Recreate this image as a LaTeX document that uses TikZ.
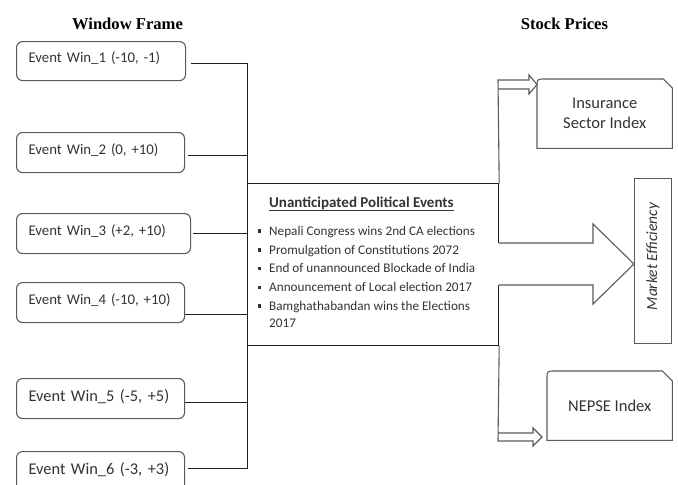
\documentclass[tikz,border=0pt]{standalone}
\usepackage{fontspec}
\setmainfont{Carlito}
\newfontfamily\titlefont{Liberation Serif}
\definecolor{boxgray}{HTML}{5A5A5A}
\definecolor{linec}{HTML}{1E1E1E}
\definecolor{txt}{HTML}{333333}
\begin{document}
\begin{tikzpicture}[x=1pt,y=-1pt,
  evbox/.style={draw=boxgray, line width=1.1pt, rounded corners=6pt, anchor=north west,
    inner xsep=12pt, inner ysep=0pt, align=left, text=txt},
  evsmall/.style={evbox, font=\fontsize{14.8pt}{17pt}\selectfont, text height=10pt, text depth=7pt},
  evbig/.style={evbox, font=\fontsize{16.4pt}{19pt}\selectfont, text height=11pt, text depth=5pt},
  conn/.style={draw=linec, line width=0.9pt},
  rline/.style={draw=boxgray, line width=1.1pt},
  ttl/.style={font=\titlefont\bfseries\fontsize{16.6pt}{19pt}\selectfont, anchor=base, inner sep=0pt},
  lst/.style={font=\fontsize{13.2pt}{17.5pt}\selectfont, anchor=base west, inner sep=0pt, text=txt},
  idx/.style={font=\fontsize{16.5pt}{20pt}\selectfont, text=txt, align=center, anchor=north west, inner sep=0pt}]
\useasboundingbox (0,0) rectangle (678,485);

% titles
\node[ttl] (tw) at (127.5,29) {Window Frame};
\node[ttl] (ts) at (564.5,29) {Stock Prices};

% event window boxes
\node[evsmall, text width=145pt, minimum height=39pt] (w1) at (16,41) {Event Win\_1 (-10, -1)};
\node[evsmall, text width=144pt, minimum height=40pt] (w2) at (16,132) {Event Win\_2 (0, +10)};
\node[evsmall, text width=150pt, minimum height=40pt] (w3) at (16,213) {Event Win\_3 (+2, +10)};
\node[evsmall, text width=144pt, minimum height=40pt] (w4) at (16,282) {Event Win\_4 (-10, +10)};
\node[evbig, text width=144pt, minimum height=40pt] (w5) at (16,378) {Event Win\_5 (-5, +5)};
\node[evbig, text width=144pt, minimum height=40pt] (w6) at (16,451) {Event Win\_6 (-3, +3)};

% central box
\node[draw=linec, line width=1.2pt, anchor=north west, minimum width=251pt, minimum height=162pt, inner sep=0pt] (c) at (247,183) {};
\node[font=\bfseries\fontsize{15pt}{18pt}\selectfont, anchor=base west, inner sep=0pt, text=txt] (ct) at (269,207.7) {Unanticipated Political Events};
\draw[line width=0.9pt, txt] ([yshift=-3.2pt]ct.base west) -- ([yshift=-3.2pt]ct.base east);
\newcommand{\blt}{\llap{\rule[2.3pt]{3.5pt}{3.5pt}\hspace{8pt}}}
\node[lst] (l1) at (269,235) {\blt Nepali Congress wins 2nd CA elections};
\node[lst] (l2) at (269,254) {\blt Promulgation of Constitutions 2072};
\node[lst] (l3) at (269,272.5) {\blt End of unannounced Blockade of India};
\node[lst] (l4) at (269,291.5) {\blt Announcement of Local election 2017};
\node[lst] (l5) at (269,310) {\blt Bamghathabandan wins the Elections};
\node[lst] (l5b) at (269,327.5) {2017};

% connectors from event windows
\draw[conn] ([xshift=5pt,yshift=-2pt]w1.east) -| (c.north west);
\draw[conn] ([xshift=3pt,yshift=-3pt]w2.east) -- ([yshift=-3pt]w2.east -| c.west);
\draw[conn] ([xshift=2pt]w3.east) -- (w3.east -| c.west);
\draw[conn] ([yshift=-11.5pt]w4.east) -- ([yshift=-11.5pt]w4.east -| c.west);
\draw[conn] ([yshift=-4pt]w5.east) -- ([yshift=-4pt]w5.east -| c.west);
\draw[conn] ([xshift=3pt,yshift=3pt]w6.east) -| (c.south west);

% market efficiency box
\node[draw=boxgray, line width=1pt, anchor=north west, minimum width=37pt, minimum height=165pt, inner sep=0pt] (me) at (634,178) {};
\node[rotate=90, inner sep=0pt, font=\itshape\fontsize{15.5pt}{18pt}\selectfont, text=txt] (met) at ([yshift=4.5pt]me.center) {Market Efficiency};
\coordinate (metip) at (634,264);

% big hollow arrow to market efficiency
\fill[white] (497.2,243) -- (593,243) -- (593,224) -- (metip) -- (593,304) -- (593,285) -- (497.2,285) -- cycle;
\draw[rline] (c.east |- 0,243) -- (593,243) -- (593,224) -- (metip) -- (593,304) -- (593,285) -- (c.east |- 0,285);

% insurance sector index
\node[idx, minimum width=135pt, minimum height=69pt] (ins) at (537,79) {Insurance\\Sector Index};
\draw[rline] (ins.south west) -- ([yshift=-8pt]ins.north west) .. controls (ins.north west) .. ([xshift=8pt]ins.north west)
  -- ([xshift=-9pt]ins.north east) -- ([yshift=-9pt]ins.north east) -- (ins.south east) -- cycle;

% NEPSE index
\node[idx, minimum width=125pt, minimum height=69pt] (nep) at (547,371) {NEPSE Index};
\draw[rline] (nep.south west) -- ([yshift=-8pt]nep.north west) .. controls (nep.north west) .. ([xshift=8pt]nep.north west)
  -- ([xshift=-10pt]nep.north east) -- ([yshift=-10pt]nep.north east) -- (nep.south east) -- cycle;

% small hollow arrows
\draw[rline] (c.north east) -- (498,80) -- (529,80) -- (529,75) -- (ins.west |- 0,84.5) -- (529,94) -- (529,89) -- (498,89);
\draw[rline] (c.south east) -- (498,441) -- (533,441) -- (533,446) -- (542,437) -- (533,428) -- (533,433) -- (498,433);
\end{tikzpicture}
\end{document}
